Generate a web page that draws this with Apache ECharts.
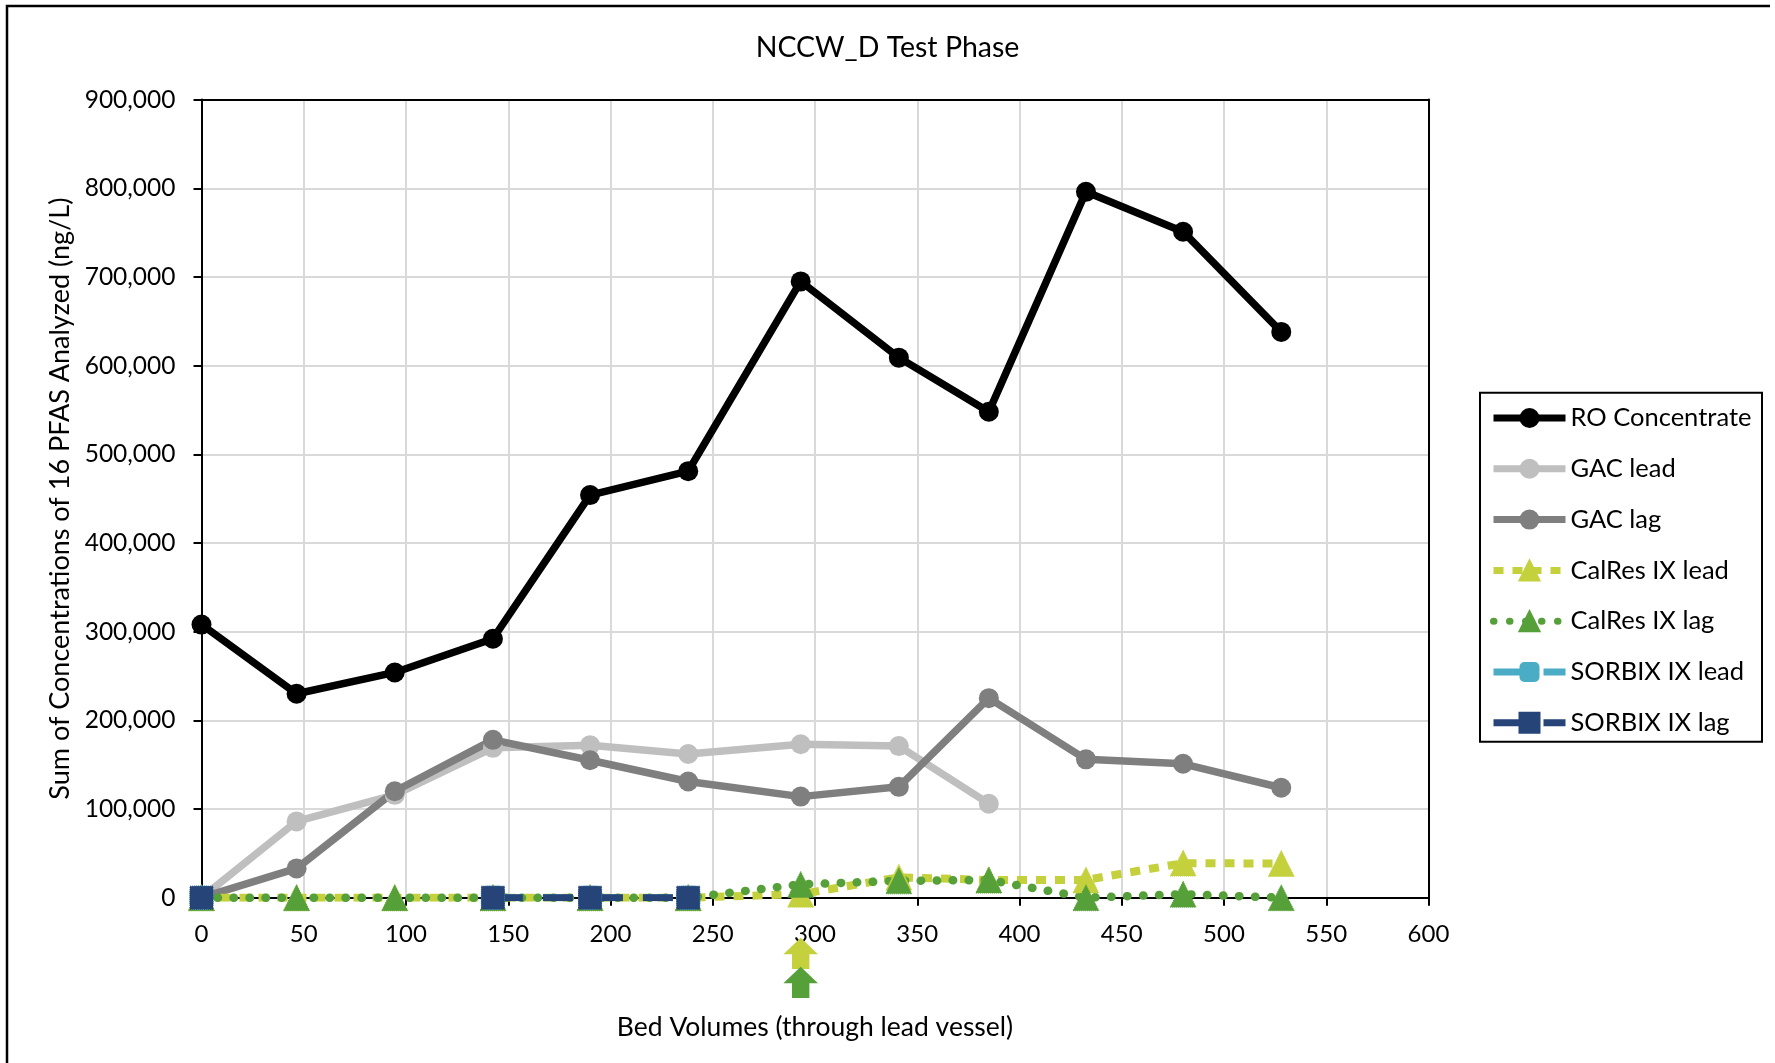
<!DOCTYPE html>
<html>
<head>
<meta charset="utf-8">
<title>NCCW_D Test Phase</title>
<script src="https://cdn.jsdelivr.net/npm/echarts@6/dist/echarts.min.js"></script>
<style>
  html, body { margin: 0; padding: 0; background: #ffffff; }
  #chart { width: 1775px; height: 1063px; }
</style>
</head>
<body>
<div id="chart"></div>
<script>
// Sampling points (bed volumes through the lead vessel)
const bedVolumes   = [0, 46.5, 94.5, 142.5, 190, 238, 293, 341, 385, 432.5, 480, 528];

// Sum of 16 PFAS (ng/L) per sampling location
const roConcentrate = [308000, 230000, 254000, 292000, 454000, 481000, 695000, 609000, 548000, 796000, 751000, 638000];
const gacLead       = [0, 86000, 116000, 169000, 172000, 162000, 173000, 171000, 106000, null, null, null];
const gacLag        = [0, 33000, 120000, 178000, 155000, 131000, 114000, 125000, 225000, 156000, 151000, 124000];
const calresLead    = [0, 0, 0, 0, 0, 0, 4000, 23000, 20000, 20000, 39000, 38500];
const calresLag     = [0, 0, 0, 0, 0, 0, 15000, 19000, 20000, 0, 4000, 0];
const sorbixLead    = [0, null, null, 0, 0, 0, null, null, null, null, null, null];
const sorbixLag     = [0, null, null, 0, 0, 0, null, null, null, null, null, null];

// Index of the sample where the CalRes arrows are placed
const arrowSampleIndex = 6;

const FONT = 'Lato';

function points(values) {
  return bedVolumes.map((bv, i) => [bv, values[i] == null ? '-' : values[i]]);
}

function lineSeries(name, values, color, opts) {
  return Object.assign({
    name: name,
    type: 'line',
    data: points(values),
    symbol: 'circle',
    symbolSize: 20,
    showAllSymbol: true,
    connectNulls: false,
    animation: false,
    emphasis: { disabled: true },
    itemStyle: { color: color },
    lineStyle: { color: color, width: 7.5, type: 'solid', cap: 'butt' }
  }, opts || {});
}

const chart = echarts.init(document.getElementById('chart'), null, { renderer: 'canvas' });

const axisBlack = { color: '#000000', width: 2 };

const option = {
  backgroundColor: '#ffffff',
  animation: false,
  textStyle: { fontFamily: FONT, color: '#000000' },
  title: {
    text: 'NCCW_D Test Phase',
    left: 'center',
    top: 28,
    textStyle: { fontFamily: FONT, fontSize: 28.5, fontWeight: 'normal', color: '#000000', lineHeight: 30 }
  },
  grid: {
    left: 201.5, right: 346.5, top: 99.6, bottom: 165.3,
    containLabel: false,
    outerBoundsMode: 'none'
  },
  legend: {
    orient: 'vertical',
    left: 1490,
    top: 405,
    padding: 0,
    itemWidth: 72,
    itemHeight: 25,
    itemGap: 24.8,
    selectedMode: false,
    lineStyle: { width: 7 },
    textStyle: { fontFamily: FONT, fontSize: 25.5, color: '#000000', lineHeight: 25 },
    data: ['RO Concentrate', 'GAC lead', 'GAC lag', 'CalRes IX lead', 'CalRes IX lag', 'SORBIX IX lead', 'SORBIX IX lag']
  },
  xAxis: [
    {
      type: 'value',
      min: 0, max: 600, interval: 50,
      name: 'Bed Volumes (through lead vessel)',
      nameLocation: 'middle',
      nameGap: 116,
      nameTextStyle: { fontFamily: FONT, fontSize: 26.5, color: '#000000', lineHeight: 27 },
      axisLine: { show: true, onZero: false, lineStyle: axisBlack },
      axisTick: { show: true, inside: false, length: 8, lineStyle: axisBlack },
      axisLabel: { fontFamily: FONT, fontSize: 24, color: '#000000', margin: 25, lineHeight: 24 },
      splitLine: { show: true, lineStyle: { color: '#D9D9D9', width: 2 } }
    },
    {
      type: 'value', position: 'top',
      min: 0, max: 600, interval: 50,
      axisLine: { show: true, onZero: false, lineStyle: axisBlack },
      axisTick: { show: false }, axisLabel: { show: false }, splitLine: { show: false }
    }
  ],
  yAxis: [
    {
      type: 'value',
      min: 0, max: 900000, interval: 100000,
      name: 'Sum of Concentrations of 16 PFAS Analyzed (ng/L)',
      nameLocation: 'middle',
      nameGap: 126,
      nameRotate: 90,
      nameTextStyle: { fontFamily: FONT, fontSize: 27, color: '#000000', lineHeight: 27 },
      axisLine: { show: true, onZero: false, lineStyle: axisBlack },
      axisTick: { show: true, inside: false, length: 8, lineStyle: axisBlack },
      axisLabel: {
        fontFamily: FONT, fontSize: 24.5, color: '#000000', margin: 26,
        formatter: v => v.toLocaleString('en-US')
      },
      splitLine: { show: true, lineStyle: { color: '#D9D9D9', width: 2 } }
    },
    {
      type: 'value', position: 'right',
      min: 0, max: 900000, interval: 100000,
      axisLine: { show: true, onZero: false, lineStyle: axisBlack },
      axisTick: { show: false }, axisLabel: { show: false }, splitLine: { show: false }
    }
  ],
  series: [
    lineSeries('RO Concentrate', roConcentrate, '#000000'),
    lineSeries('GAC lead', gacLead, '#BFBFBF'),
    lineSeries('GAC lag', gacLag, '#7F7F7F'),
    lineSeries('CalRes IX lead', calresLead, '#C4D13C', {
      symbol: 'triangle', symbolSize: [26, 26],
      itemStyle: { color: '#C4D13C', borderColor: '#C4D13C', borderWidth: 1, borderType: 'dotted' },
      lineStyle: { color: '#C4D13C', width: 8, type: [10, 9], cap: 'butt' }
    }),
    lineSeries('CalRes IX lag', calresLag, '#56A039', {
      symbol: 'triangle', symbolSize: [26, 26],
      itemStyle: { color: '#56A039', borderColor: '#56A039', borderWidth: 1, borderType: 'dotted' },
      lineStyle: { color: '#56A039', width: 8.5, type: [0.5, 15.5], cap: 'round' }
    }),
    lineSeries('SORBIX IX lead', sorbixLead, '#4BACC6', {
      symbol: 'roundRect', symbolSize: 24,
      lineStyle: { color: '#4BACC6', width: 7, type: [30, 20], cap: 'butt' }
    }),
    lineSeries('SORBIX IX lag', sorbixLag, '#264478', {
      symbol: 'rect', symbolSize: 23,
      itemStyle: { color: '#264478', borderColor: '#264478', borderWidth: 1, borderType: 'dotted' },
      lineStyle: { color: '#264478', width: 7, type: [30, 20], cap: 'butt' }
    })
  ]
};

chart.setOption(option);

// Decorations: chart frame, legend frame and the two CalRes arrows under the axis
const origin = chart.convertToPixel({ xAxisIndex: 0, yAxisIndex: 0 }, [bedVolumes[arrowSampleIndex], 0]);
const ax = origin[0];
const ay = origin[1];

function upArrow(tipY, color) {
  const headHalf = 17.3, shaftHalf = 8.7, headH = 16.6, totalH = 31.3;
  return {
    type: 'polygon',
    silent: true,
    z: 100,
    shape: {
      points: [
        [ax, tipY],
        [ax + headHalf, tipY + headH],
        [ax + shaftHalf, tipY + headH],
        [ax + shaftHalf, tipY + totalH],
        [ax - shaftHalf, tipY + totalH],
        [ax - shaftHalf, tipY + headH],
        [ax - headHalf, tipY + headH]
      ]
    },
    style: { fill: color }
  };
}

chart.setOption({
  graphic: [
    {
      type: 'polyline', silent: true, z: 100,
      shape: { points: [[7, 1070], [7, 6], [1770, 6]] },
      style: { stroke: '#000000', lineWidth: 2.5, fill: null }
    },
    {
      type: 'rect', silent: true, z: 100,
      shape: { x: 1480, y: 392.7, width: 282, height: 349 },
      style: { stroke: '#000000', lineWidth: 2, fill: null }
    },
    upArrow(ay + 40, '#C4D13C'),
    upArrow(ay + 69, '#56A039')
  ]
});
</script>
</body>
</html>
